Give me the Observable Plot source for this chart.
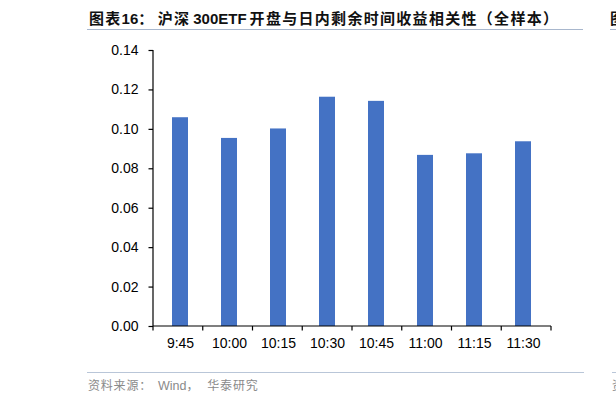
<!DOCTYPE html>
<html>
<head>
<meta charset="utf-8">
<script src="https://cdn.jsdelivr.net/npm/d3@7"></script>
<script src="https://cdn.jsdelivr.net/npm/@observablehq/plot@0.6"></script>
<style>
  html, body { margin: 0; padding: 0; background: #fff; }
  body { width: 616px; height: 403px; position: relative; overflow: hidden; }
  .title {
    position: absolute; left: 87px; top: 0; width: 496px; height: 22px; padding-top: 7px;
    border-bottom: 1.5px solid #a8b7cd;
    font-family: "Liberation Sans", "Noto Sans CJK SC", sans-serif; font-weight: 700;
    font-size: 15px; line-height: 22px; color: #111; white-space: nowrap;
  }
  .title .t { padding-left: 2px; }
  .title .cjk { letter-spacing: 1.3px; }
  .cjk { font-family: "Noto Sans CJK SC", sans-serif; }
  #chart { position: absolute; left: 0; top: 30px; }
  #chart svg text { font-size: 14px !important; font-family: "Liberation Sans", Arial, sans-serif; fill: #000; }
  .source {
    position: absolute; left: 87px; top: 372px; width: 496px; height: 24px;
    border-top: 1.5px solid #b9c6d8;
    font-family: "Noto Sans CJK SC", "Liberation Sans", sans-serif; font-size: 12px;
    line-height: 24px; color: #8a8a8a; white-space: nowrap; padding-left: 1px;
  }
  .source .cjk { letter-spacing: 0.8px; }
  .source .w { font-family: "Liberation Sans", sans-serif; font-size: 12.5px; margin-left: 6px; }
  .source .c2 { margin-right: 8px; }
  .next-title { position: absolute; left: 610px; top: 0; width: 40px; height: 22px; padding-top: 7px;
    border-bottom: 1.5px solid #a8b7cd; font-family: "Noto Sans CJK SC"; font-weight: 700; font-size: 15px; line-height: 22px; color:#111; }
  .next-source { position: absolute; left: 612px; top: 372px; width: 40px; height: 24px;
    border-top: 1.5px solid #b9c6d8; font-family: "Noto Sans CJK SC"; font-size: 12px; line-height: 24px; color:#8a8a8a; }
</style>
</head>
<body>
<div class="title"><span class="t"><span class="cjk">图表</span>16<span class="cjk">：</span>&#8201;<span class="cjk">沪深</span>&#8201;300ETF&#8201;<span class="cjk">开盘与日内剩余时间收益相关性（全样本）</span></span></div>
<div class="next-title">图</div>
<div id="chart"></div>
<div class="source"><span class="cjk">资料来源：</span><span class="w">Wind</span><span class="cjk c2">，</span><span class="cjk">华泰研究</span></div>
<div class="next-source">资</div>
<script>
const categories = ["9:45", "10:00", "10:15", "10:30", "10:45", "11:00", "11:15", "11:30"];
const values = [0.1059, 0.0954, 0.1002, 0.1163, 0.1142, 0.0868, 0.0876, 0.0937];
const yTicks = [0, 0.02, 0.04, 0.06, 0.08, 0.10, 0.12, 0.14];

const data = categories.map((t, i) => ({t, v: values[i]}));

// custom axis lines: y-axis line and x-axis boundary ticks
function axisLines(index, scales, vals, dims) {
  const {width, marginLeft, marginRight} = dims;
  const y = scales.y;
  const g = d3.create("svg:g").attr("stroke", "#000").attr("stroke-width", 1.2).attr("fill", "none");
  const y0 = y(0), yTop = y(yTicks[yTicks.length - 1]);
  g.append("line").attr("x1", marginLeft).attr("x2", marginLeft).attr("y1", yTop).attr("y2", y0);
  const w = width - marginLeft - marginRight;
  const n = categories.length;
  for (let k = 0; k <= n; k++) {
    const xx = marginLeft + (k * w) / n;
    g.append("line").attr("x1", xx).attr("x2", xx).attr("y1", y0).attr("y2", y0 + 4.5);
  }
  g.append("line").attr("x1", marginLeft).attr("x2", width - marginRight).attr("y1", y0).attr("y2", y0);
  return g.node();
}

const plot = Plot.plot({
  width: 616,
  height: 342,
  marginTop: 20,
  marginBottom: 46,
  marginLeft: 153,
  marginRight: 65,
  style: {fontFamily: "'Liberation Sans', Arial, sans-serif", fontSize: "14px", color: "#000", background: "transparent", overflow: "visible"},
  x: {domain: categories, paddingInner: 0.67, paddingOuter: 0.335, label: null},
  y: {domain: [0, 0.14], label: null},
  marks: [
    Plot.barY(data, {x: "t", y: "v", fill: "#4472C4"}),
    Plot.axisY({ticks: yTicks, tickSize: 4.5, tickPadding: 10.5, tickFormat: d3.format(".2f"), stroke: "#000", strokeWidth: 1.2, label: null}),
    Plot.axisX({tickSize: 0, tickPadding: 12, label: null}),
    axisLines
  ]
});
document.getElementById("chart").appendChild(plot);
</script>
</body>
</html>
